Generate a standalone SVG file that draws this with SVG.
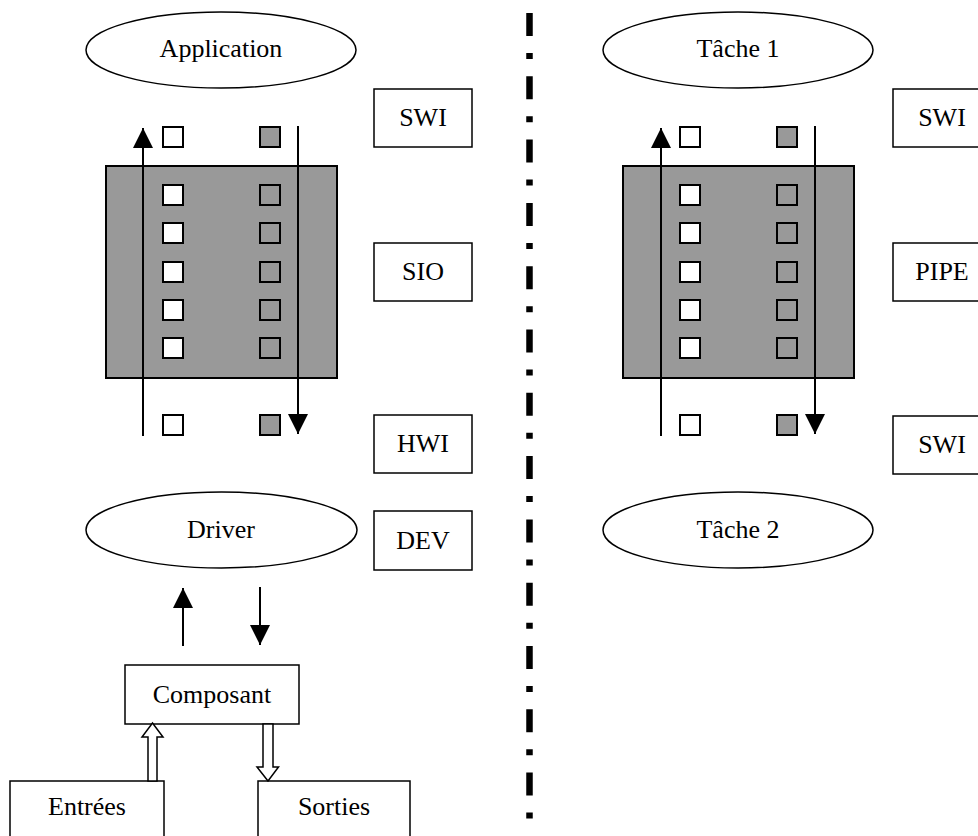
<svg xmlns="http://www.w3.org/2000/svg" width="978" height="836" viewBox="0 0 978 836">
<defs>
<style>
text{font-family:"Liberation Serif","Times New Roman",serif;font-size:26px;fill:#000;text-anchor:middle}
.el{fill:#fff;stroke:#000;stroke-width:1.5}
.bx{fill:#fff;stroke:#000;stroke-width:1.5}
.panel{fill:#999;stroke:#000;stroke-width:2}
.sw{fill:#fff;stroke:#000;stroke-width:2}
.sg{fill:#999;stroke:#000;stroke-width:2}
.ln{stroke:#000;stroke-width:2;fill:none}
.ar{stroke:#000;stroke-width:2;fill:none;marker-end:url(#ah)}
.hol{fill:#fff;stroke:#000;stroke-width:1.5}
.sep{stroke:#000;stroke-width:6.5;stroke-dasharray:23 17 6 17.3;fill:none}
</style>
<marker id="ah" markerUnits="userSpaceOnUse" markerWidth="20" markerHeight="20" refX="20" refY="10" orient="auto">
<path d="M0,0 L20,10 L0,20 z" fill="#000"/>
</marker>
<g id="cells">
<rect id="cw" class="sw" width="20" height="20"/>
<rect id="cg" class="sg" width="20" height="20"/>
</g>
</defs>

<g id="left-app"><ellipse class="el" cx="221" cy="50" rx="135" ry="38"/><text x="221" y="57">Application</text></g>
<g id="left-swi"><rect class="bx" x="374" y="89" width="98" height="58"/><text x="423" y="126">SWI</text></g>
<g id="left-sio"><rect class="bx" x="374" y="243" width="98" height="58"/><text x="423" y="280">SIO</text></g>
<g id="left-hwi"><rect class="bx" x="374" y="415" width="98" height="58"/><text x="423" y="452">HWI</text></g>
<g id="left-dev"><rect class="bx" x="374" y="511" width="98" height="59"/><text x="423" y="549">DEV</text></g>
<g id="left-driver"><ellipse class="el" cx="221.5" cy="530" rx="135.5" ry="38"/><text x="221" y="538">Driver</text></g>
<g id="composant"><rect class="bx" x="125" y="665" width="174" height="59"/><text x="212" y="703">Composant</text></g>
<g id="entrees"><rect class="bx" x="10" y="781" width="154" height="62"/><text x="87" y="815">Entrées</text></g>
<g id="sorties"><rect class="bx" x="258" y="781" width="152" height="62"/><text x="334" y="815">Sorties</text></g>

<g id="left-buffer">
<rect class="panel" x="106" y="166" width="231" height="212"/>
<use href="#cw" x="163" y="127"/><use href="#cg" x="260" y="127"/>
<use href="#cw" x="163" y="185"/><use href="#cg" x="260" y="185"/>
<use href="#cw" x="163" y="223"/><use href="#cg" x="260" y="223"/>
<use href="#cw" x="163" y="262"/><use href="#cg" x="260" y="262"/>
<use href="#cw" x="163" y="300"/><use href="#cg" x="260" y="300"/>
<use href="#cw" x="163" y="338"/><use href="#cg" x="260" y="338"/>
<use href="#cw" x="163" y="415"/><use href="#cg" x="260" y="415"/>
</g>

<g id="right-t1"><ellipse class="el" cx="738" cy="50" rx="135" ry="38"/><text x="738" y="57">Tâche 1</text></g>
<g id="right-swi1"><rect class="bx" x="893" y="89" width="98" height="58"/><text x="942" y="126">SWI</text></g>
<g id="right-pipe"><rect class="bx" x="893" y="243" width="98" height="58"/><text x="942" y="280">PIPE</text></g>
<g id="right-swi2"><rect class="bx" x="893" y="416" width="98" height="58"/><text x="942" y="453">SWI</text></g>
<g id="right-t2"><ellipse class="el" cx="738" cy="530" rx="135" ry="38"/><text x="738" y="538">Tâche 2</text></g>

<g id="right-buffer">
<rect class="panel" x="623" y="166" width="231" height="212"/>
<use href="#cw" x="680" y="127"/><use href="#cg" x="777" y="127"/>
<use href="#cw" x="680" y="185"/><use href="#cg" x="777" y="185"/>
<use href="#cw" x="680" y="223"/><use href="#cg" x="777" y="223"/>
<use href="#cw" x="680" y="262"/><use href="#cg" x="777" y="262"/>
<use href="#cw" x="680" y="300"/><use href="#cg" x="777" y="300"/>
<use href="#cw" x="680" y="338"/><use href="#cg" x="777" y="338"/>
<use href="#cw" x="680" y="415"/><use href="#cg" x="777" y="415"/>
</g>

<g id="connectors">
<line class="ar" x1="143" y1="436" x2="143" y2="128"/>
<line class="ar" x1="298" y1="126" x2="298" y2="434"/>
<line class="ar" x1="183" y1="646" x2="183" y2="588"/>
<line class="ar" x1="260" y1="587" x2="260" y2="645"/>
<polygon class="hol" points="148,781 148,737 142,737 152.5,723 163,737 157,737 157,781"/>
<polygon class="hol" points="263,724 263,767 257,767 268,781 278.5,767 273,767 273,724"/>
<line class="ar" x1="661" y1="436" x2="661" y2="128"/>
<line class="ar" x1="815" y1="126" x2="815" y2="434"/>
</g>

<g id="separator"><line class="sep" x1="529.5" y1="13" x2="529.5" y2="836"/></g>
</svg>
